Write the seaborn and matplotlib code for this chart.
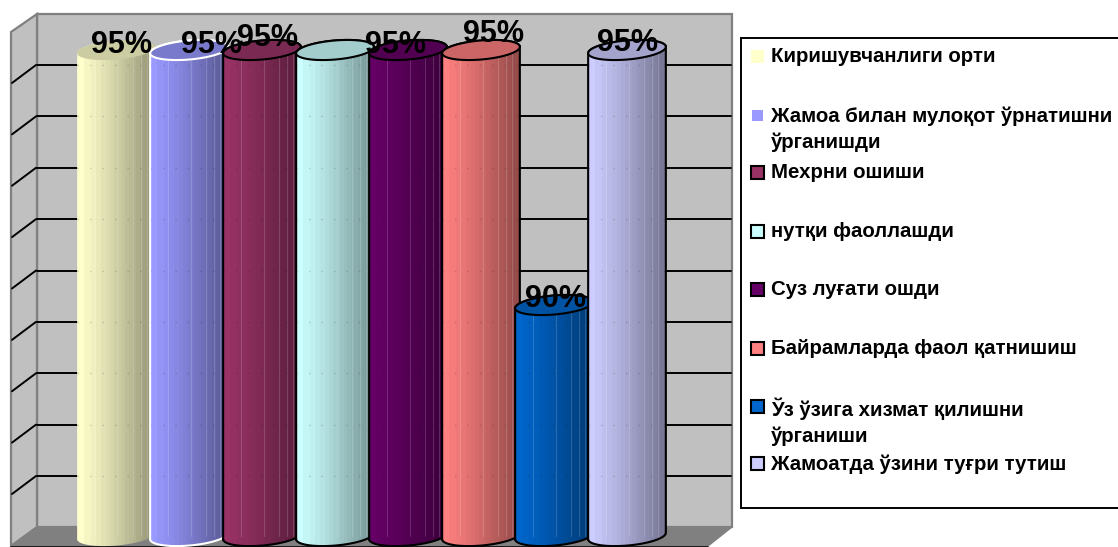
import matplotlib
matplotlib.use('Agg')
import matplotlib.pyplot as plt
from matplotlib.patches import Polygon, Rectangle
import numpy as np
import pandas as pd
import seaborn as sns

# chart values
categories = ['Киришувчанлиги орти', 'Жамоа билан мулоқот ўрнатишни\nўрганишди', 'Мехрни ошиши',
              'нутқи фаоллашди', 'Суз луғати ошди', 'Байрамларда фаол қатнишиш',
              'Ўз ўзига хизмат қилишни\nўрганиши', 'Жамоатда ўзини туғри тутиш']
values = [95, 95, 95, 95, 95, 95, 90, 95]
value_labels = ['95%', '95%', '95%', '', '95%', '95%', '90%', '95%']

# style
colors = ['#FFFFCC', '#9999FF', '#993366', '#CCFFFF', '#660066', '#FF8080', '#0066CC', '#CCCCFF']
edges = ['none', 'white', 'black', 'black', 'black', 'black', 'black', 'black']
label_dx = [6, 23, 5, 0, -13, 12, 1, 1]
label_dy = [-5, -5, -12, 0, -5, -16, -6, -7]
legend_y = [56, 115, 172, 231, 289, 348, 406, 463]

W, H = 1118, 547
px_x = 73.0      # pixels per category
px_y = 51.0      # pixels per percent
x0_px = 116.0    # pixel x of first category
y90_px = 305.0   # pixel y of 90%
base = 85.47     # percent at cylinder base
tilt = np.deg2rad(-5)
grid_rows = np.linspace(65, 476, 9)

sns.set_theme(style='white')
plt.rcParams['font.family'] = ['Liberation Sans', 'DejaVu Sans']

fig = plt.figure(figsize=(W / 100, H / 100), dpi=100)
bg = fig.add_axes([0, 0, 1, 1])
bg.set_xlim(0, W)
bg.set_ylim(H, 0)
bg.axis('off')

# walls and floor
bg.add_patch(Polygon([(37, 14), (732, 14), (732, 527), (37, 527)], fc='#C0C0C0', ec='#808080', lw=1.6))
bg.add_patch(Polygon([(11, 32), (37, 14), (37, 527), (11, 546)], fc='#C0C0C0', ec='#808080', lw=1.6))
bg.add_patch(Polygon([(11, 546), (37, 527), (732, 527), (708, 546)], fc='#808080', ec='#808080', lw=1))
bg.plot([11, 708], [546.5, 546.5], color='black', lw=1.2)
for g in grid_rows:
    bg.plot([12, 36], [g + 18, g], color='black', lw=1.4)
    bg.plot([37, 731], [g, g], color='black', lw=1.4)

# legend box
bg.add_patch(Rectangle((741, 38), 400, 470, fc='white', ec='black', lw=1.4))
for name, col, edge, y in zip(categories, colors, edges, legend_y):
    size = 11 if edge == 'white' else 13
    bg.add_patch(Rectangle((757.5 - size / 2, y - size / 2), size, size, fc=col,
                           ec=edge if edge == 'black' else 'none', lw=1.5))
    bg.text(771, y - 9, name, fontsize=14.7, fontweight='bold', color='black', va='top', ha='left',
            linespacing=1.42)

# bars
ax = fig.add_axes([0, 0, 1, 1], zorder=2)
ax.patch.set_alpha(0)
df = pd.DataFrame({'category': categories, 'value': values})
sns.barplot(data=df, x='category', y='value', hue='category', palette=colors, legend=False,
            width=78 / px_x, gap=0, dodge=False, ax=ax, saturation=1)
ax.set_xlim(-x0_px / px_x, (W - x0_px) / px_x)
ylim = ((y90_px - H) / px_y + 90, y90_px / px_y + 90)
ax.set_ylim(*ylim)
ax.axis('off')


def ellipse_pts(xc, yc, half_w, t):
    # tilted ellipse, sizes in pixels, returned in data units
    a, b = half_w, 9.5
    dx = a * np.cos(t) * np.cos(tilt) - b * np.sin(t) * np.sin(tilt)
    dy = a * np.cos(t) * np.sin(tilt) + b * np.sin(t) * np.cos(tilt)
    return xc + dx / px_x, yc - dy / px_y


def shade_col(col, n=220):
    rgb = np.array(matplotlib.colors.to_rgb(col))
    xs = np.linspace(0, 1, n)
    bands = np.round((1 - np.cos(xs * np.pi / 2 * 0.92)) ** 0.75 * 20) / 20
    level = 1 - 0.47 * bands ** 0.9
    return (rgb[None, :] * level[:, None])[None, :, :]


tt = np.linspace(0, 2 * np.pi, 120)
for i, bar in enumerate(ax.patches):
    col, edge, val = colors[i], edges[i], values[i]
    z = 3 + i
    bar.set_visible(False)
    xc = bar.get_x() + bar.get_width() / 2
    half_w = bar.get_width() * px_x / 2
    # body outline: lower half of base ellipse, then upper half of top ellipse
    bx, by = ellipse_pts(xc, base, half_w, np.linspace(np.pi, 0, 60))
    tx, ty = ellipse_pts(xc, val, half_w, np.linspace(2 * np.pi, np.pi, 60))
    pg = Polygon(np.column_stack([np.r_[bx, tx], np.r_[by, ty]]), closed=True, transform=ax.transData,
                 fc='none', ec='none')
    ax.add_patch(pg)
    im = ax.imshow(shade_col(col), extent=[bar.get_x(), bar.get_x() + bar.get_width(), base - 0.5, val + 0.5],
                   aspect='auto', zorder=z, interpolation='nearest')
    im.set_clip_path(pg)
    # pale seams on the cylinder
    for f in [0.23, 0.53, 0.72, 0.82, 0.9]:
        ax.plot([bar.get_x() + f * bar.get_width()] * 2, [base, val], color='white', alpha=0.16, lw=0.8,
                zorder=z + 0.1, clip_path=pg)
    # grid showing faintly through the seams
    for g in grid_rows:
        if (y90_px - g) / px_y + 90 < val:
            yg = (y90_px - g) / px_y + 90
            ax.plot([bar.get_x(), bar.get_x() + bar.get_width()], [yg, yg], color='black', alpha=0.16, lw=1,
                    ls=(0, (1, 8)), zorder=z + 0.1, clip_path=pg)
    if edge != 'none':
        ax.plot(np.r_[bx, tx, bx[0]], np.r_[by, ty, by[0]], color=edge, lw=1.5, zorder=z + 0.2)
    ex, ey = ellipse_pts(xc, val, half_w, tt)
    ax.fill(ex, ey, color=np.array(matplotlib.colors.to_rgb(col)) * 0.8, zorder=z + 0.3, lw=0)
    if edge != 'none':
        ax.plot(ex, ey, color=edge, lw=1.5, zorder=z + 0.4)

ax.set_xlim(-x0_px / px_x, (W - x0_px) / px_x)
ax.set_ylim(*ylim)

# data labels
for i, (lab, val) in enumerate(zip(value_labels, values)):
    if lab:
        ax.text(i + label_dx[i] / px_x, val - label_dy[i] / px_y, lab, fontsize=22, fontweight='bold',
                color='black', ha='center', va='center', zorder=30)

fig.savefig('out.png', dpi=100)
